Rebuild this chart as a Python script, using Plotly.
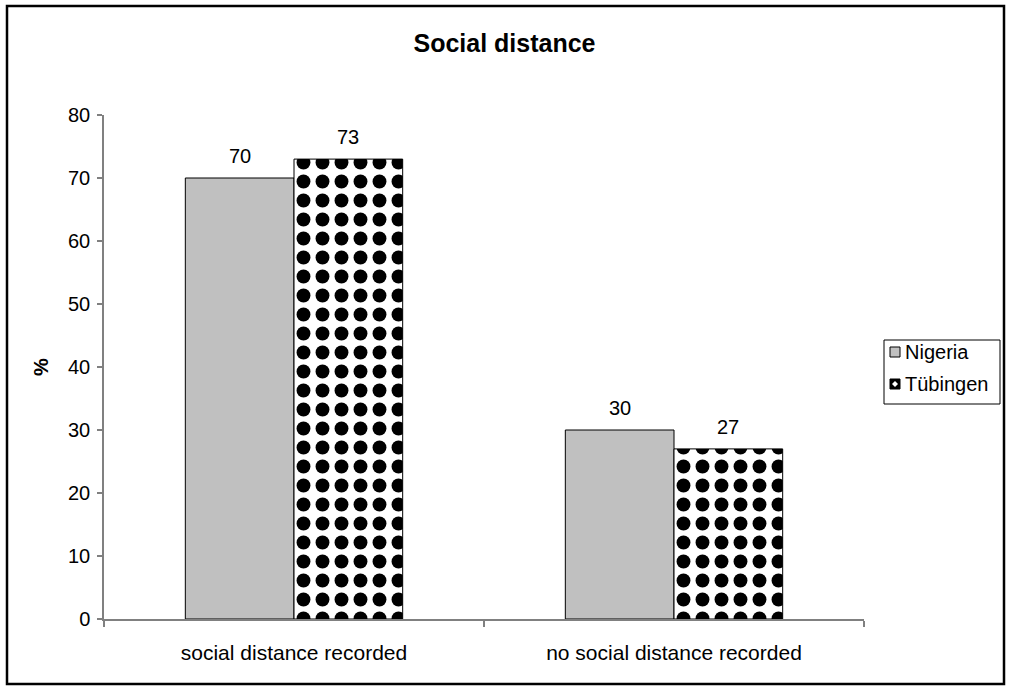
import plotly.graph_objects as go

categories = ["social distance recorded", "no social distance recorded"]
nigeria = [70, 30]
tuebingen = [73, 27]
y_ticks = [0, 10, 20, 30, 40, 50, 60, 70, 80]
series_names = ["Nigeria", "Tübingen"]

FONT = "Liberation Sans, Arial, sans-serif"
AXIS_GRAY = "#808080"
GRAY_FILL = "#c0c0c0"

checker = dict(shape=".", fgcolor="black", bgcolor="white",
               size=19, solidity=0.42, fillmode="replace")

fig = go.Figure()
fig.add_trace(go.Bar(
    name=series_names[0], x=categories, y=nigeria, showlegend=False,
    marker=dict(color=GRAY_FILL, line=dict(color="black", width=1)),
))
fig.add_trace(go.Bar(
    name=series_names[1], x=categories, y=tuebingen, showlegend=False,
    marker=dict(color="white", line=dict(color="black", width=1),
                pattern=checker),
))

# plot area spans x 104..864, y 115..619 in pixels
L, R, T, B = 104, 864, 115, 619
W, H = R - L, B - T
BAR_GAP = 0.428
half_bar = (1 - BAR_GAP) / 4 * W / len(categories)  # pixel offset of a bar centre from its category centre

def px(x):
    return (x - L) / W

def py(y):
    return (B - y) / H

annotations = []
for values, sign in ((nigeria, -1), (tuebingen, 1)):
    for cat, v in zip(categories, values):
        annotations.append(dict(
            x=cat, y=v, xref="x", yref="y", text=str(v), showarrow=False,
            xshift=sign * half_bar, yanchor="bottom", yshift=9,
            font=dict(size=20, color="black")))

# legend box drawn on the right of the plot
shapes = [
    dict(type="rect", xref="paper", yref="paper",
         x0=px(7), x1=px(1004), y0=py(684), y1=py(6),
         line=dict(color="black", width=2.5), layer="below"),
    dict(type="rect", xref="paper", yref="paper",
         x0=px(884), x1=px(1000), y0=py(404), y1=py(340),
         line=dict(color="black", width=1), fillcolor="white"),
    dict(type="rect", xref="paper", yref="paper",
         x0=px(890), x1=px(900), y0=py(357), y1=py(347),
         line=dict(color="black", width=1), fillcolor=GRAY_FILL),
    dict(type="rect", xref="paper", yref="paper",
         x0=px(890), x1=px(900), y0=py(389), y1=py(379),
         line=dict(color="black", width=1), fillcolor="black"),
    dict(type="path", xref="paper", yref="paper",
         path=(f"M {px(895)},{py(381)} L {px(898)},{py(384)} "
               f"L {px(895)},{py(387)} L {px(892)},{py(384)} Z"),
         line=dict(width=0), fillcolor="white"),
]
for name, yc in zip(series_names, (352, 384)):
    annotations.append(dict(
        x=px(903), y=py(yc), xref="paper", yref="paper", text=name,
        showarrow=False, xanchor="left", yanchor="middle",
        font=dict(size=20, color="black")))

fig.update_layout(
    width=1009, height=697,
    margin=dict(l=L, r=1009 - R, t=T, b=697 - B),
    paper_bgcolor="white", plot_bgcolor="white",
    font=dict(family=FONT, size=20, color="black"),
    barmode="group", bargap=BAR_GAP, bargroupgap=0,
    showlegend=False,
    title=dict(text="<b>Social distance</b>", x=0.5, xanchor="center",
               y=1 - 43 / 697, yanchor="middle",
               font=dict(family=FONT, size=25, color="black")),
    xaxis=dict(showline=True, linecolor=AXIS_GRAY, linewidth=1.5,
               ticks="outside", tickson="boundaries", ticklen=6,
               tickcolor=AXIS_GRAY, tickwidth=1.5, ticklabelstandoff=14,
               tickfont=dict(size=21), showgrid=False),
    yaxis=dict(range=[0, 80], tickvals=y_ticks, showline=True,
               linecolor=AXIS_GRAY, linewidth=1.5, ticks="outside",
               ticklen=5, tickcolor=AXIS_GRAY, tickwidth=1.5,
               ticklabelstandoff=3,
               tickfont=dict(size=20), showgrid=False, zeroline=False,
               title=dict(text="<b>%</b>", font=dict(size=20), standoff=14)),
    annotations=annotations,
    shapes=shapes,
)

fig.write_html("out.html")
